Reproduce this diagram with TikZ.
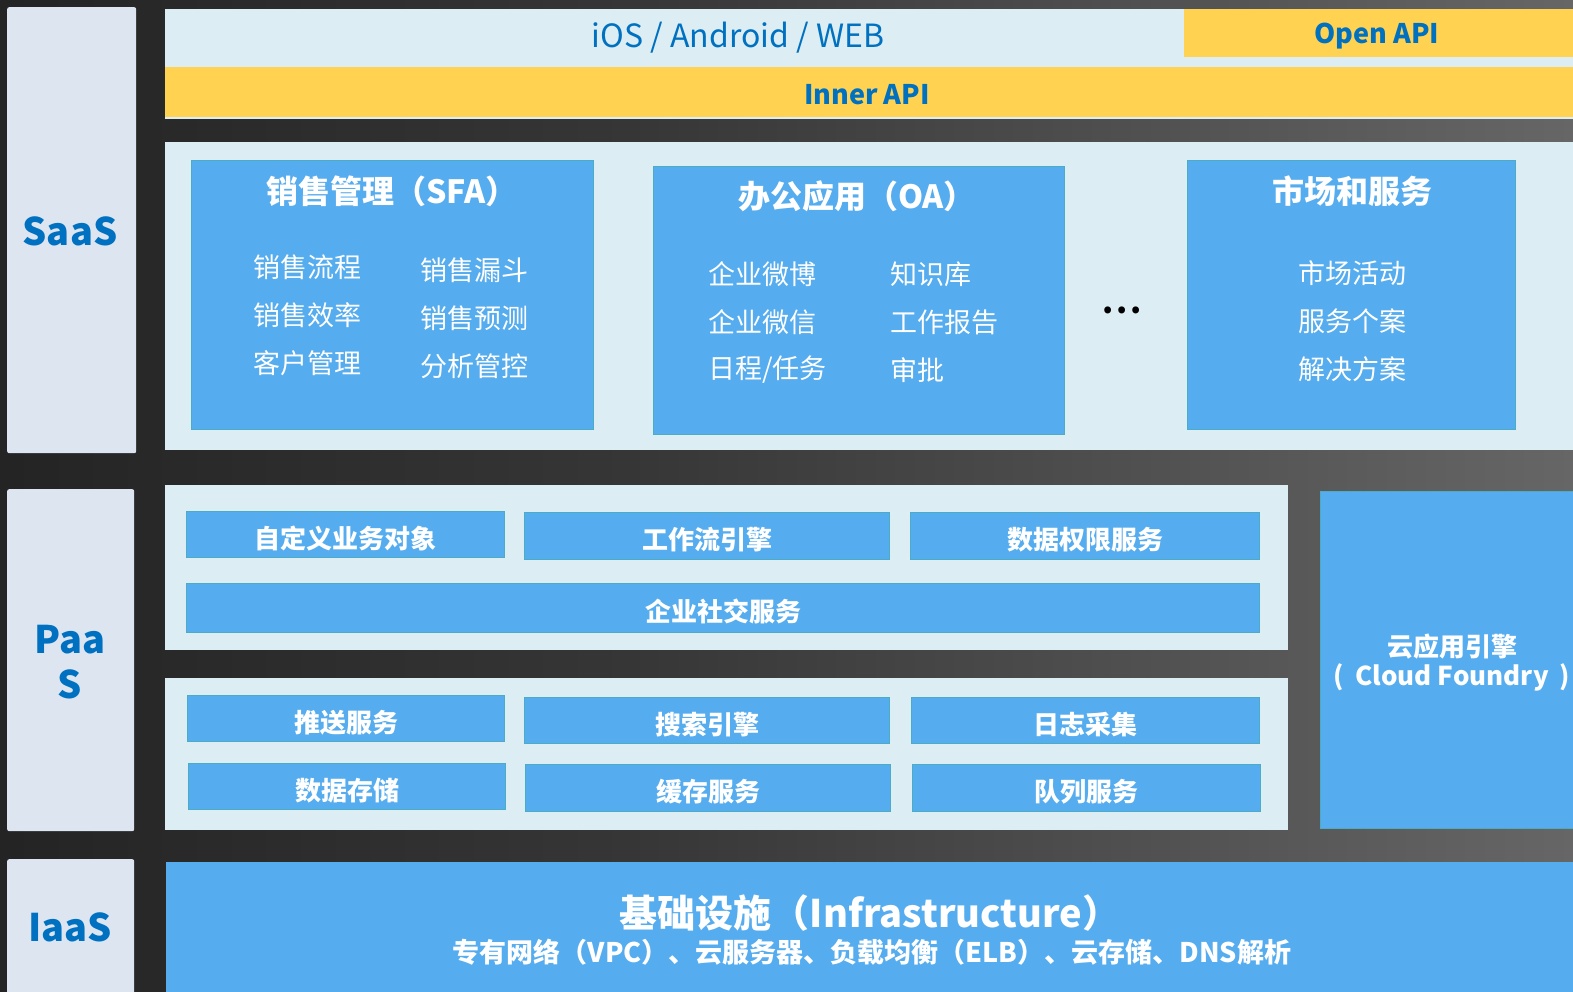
\documentclass[tikz,border=0pt]{standalone}
\usepackage{fontspec}
\setmainfont{Noto Sans CJK SC}
\definecolor{panel}{HTML}{DCEEF3}
\definecolor{side}{HTML}{DCE5F0}
\definecolor{ylw}{HTML}{FFD351}
\definecolor{bx}{HTML}{55ACEE}
\definecolor{bxline}{HTML}{4BACC6}
\definecolor{tblue}{HTML}{0070C0}
\definecolor{bga}{HTML}{080808}
\definecolor{bgb}{HTML}{181818}
\definecolor{bgc}{HTML}{363636}
\definecolor{bgd}{HTML}{5E5E5E}
\definecolor{bge}{HTML}{8E8E8E}
\pgfdeclarehorizontalshading{bgshade}{100bp}{color(0bp)=(bga); color(12bp)=(bgb); color(45bp)=(bgc); color(70bp)=(bgd); color(100bp)=(bge)}
\tikzset{
  panelbox/.style={fill=panel, draw=none, anchor=north west, inner sep=0pt, outer sep=0pt},
  sidebox/.style={fill=side, draw=none, rounded corners=2pt, anchor=north west, inner sep=0pt},
  ylwbox/.style={fill=ylw, draw=none, anchor=north west, inner sep=0pt},
  bluebox/.style={fill=bx, draw=bxline, line width=1.2pt, anchor=north west, inner sep=0pt},
  btitle/.style={text=white, font=\fontsize{32}{36}\selectfont\bfseries, inner sep=0pt},
  item/.style={text=white, font=\fontsize{27}{30}\selectfont, inner sep=0pt},
  svc/.style={bluebox, text=white, font=\fontsize{26}{28}\selectfont\bfseries, text height=27pt, text depth=0pt},
  sidelabel/.style={text=tblue, font=\fontsize{38}{45}\selectfont\bfseries, align=center, inner sep=0pt},
  apilabel/.style={text=tblue, font=\fontsize{27}{30}\selectfont\bfseries, inner sep=0pt}
}
\begin{document}
\begin{tikzpicture}[x=1pt,y=-1pt]
\useasboundingbox (0,0) rectangle (1573,992);
\shade[shading=bgshade] (0,0) rectangle (1573,992);

% side labels
\node[sidebox, minimum width=129pt, minimum height=446pt] (saasbox) at (7,7) {};
\node[sidebox, minimum width=127pt, minimum height=342pt] (paasbox) at (7,489) {};
\node[sidebox, minimum width=127pt, minimum height=140pt] (iaasbox) at (7,859) {};
\node[sidelabel] (saas) at (70,231) {SaaS};
\node[sidelabel] (paas) at (70,662) {Paa\\S};
\node[sidelabel] (iaas) at (70,927) {IaaS};

% top bars
\node[panelbox, minimum width=1408pt, minimum height=110pt] (toppanel) at (165,9) {};
\node[text=tblue, font=\fontsize{32}{36}\selectfont, inner sep=0pt] (clients) at (738,38) {iOS / Android / WEB};
\node[ylwbox, minimum width=389pt, minimum height=48pt] (openapi) at (1184,9) {};
\node[apilabel] (openlbl) at (1377,36) {Open API};
\node[ylwbox, minimum width=1408pt, minimum height=50pt] (innerapi) at (165,67) {};
\node[apilabel] (innerlbl) at (867,95) {Inner API};

% SaaS panel
\node[panelbox, minimum width=1408pt, minimum height=308pt] (saaspanel) at (165,142) {};
\node[bluebox, minimum width=402pt, minimum height=269pt] (sfa) at (191,160) {};
\node[btitle] (sfat) at (392,191) {销售管理（SFA）};
\node[item, anchor=west] (sfa1) at (253,267) {销售流程};
\node[item, anchor=west] (sfa2) at (253,315) {销售效率};
\node[item, anchor=west] (sfa3) at (253,363) {客户管理};
\node[item, anchor=west] (sfa4) at (420,270) {销售漏斗};
\node[item, anchor=west] (sfa5) at (420,318) {销售预测};
\node[item, anchor=west] (sfa6) at (420,366) {分析管控};

\node[bluebox, minimum width=411pt, minimum height=268pt] (oa) at (653,166) {};
\node[btitle] (oat) at (857,196) {办公应用（OA）};
\node[item, anchor=west] (oa1) at (708,274) {企业微博};
\node[item, anchor=west] (oa2) at (708,322) {企业微信};
\node[item, anchor=west] (oa3) at (708,370) {日程/任务};
\node[item, anchor=west] (oa4) at (890,274) {知识库};
\node[item, anchor=west] (oa5) at (890,322) {工作报告};
\node[item, anchor=west] (oa6) at (890,370) {审批};

\node[text=black, font=\fontsize{32}{36}\selectfont\bfseries, anchor=base, inner sep=0pt] (dots) at (1122,313) {.\kern3pt.\kern3pt.};

\node[bluebox, minimum width=328pt, minimum height=269pt] (mkt) at (1187,160) {};
\node[btitle] (mktt) at (1352,191) {市场和服务};
\node[item] (mkt1) at (1352,273) {市场活动};
\node[item] (mkt2) at (1352,321) {服务个案};
\node[item] (mkt3) at (1352,369) {解决方案};

% PaaS panels
\node[panelbox, minimum width=1123pt, minimum height=165pt] (paasup) at (165,485) {};
\node[svc, minimum width=318pt, minimum height=46pt] (p1) at (186,511) {自定义业务对象};
\node[svc, minimum width=365pt, minimum height=47pt] (p2) at (524,512) {工作流引擎};
\node[svc, minimum width=349pt, minimum height=47pt] (p3) at (910,512) {数据权限服务};
\node[svc, minimum width=1073pt, minimum height=49pt] (p4) at (186,583) {企业社交服务};

\node[panelbox, minimum width=1123pt, minimum height=152pt] (paaslow) at (165,678) {};
\node[svc, minimum width=317pt, minimum height=46pt] (q1) at (187,695) {推送服务};
\node[svc, minimum width=365pt, minimum height=46pt] (q2) at (524,697) {搜索引擎};
\node[svc, minimum width=348pt, minimum height=46pt] (q3) at (911,697) {日志采集};
\node[svc, minimum width=317pt, minimum height=46pt] (q4) at (188,763) {数据存储};
\node[svc, minimum width=365pt, minimum height=47pt] (q5) at (525,764) {缓存服务};
\node[svc, minimum width=348pt, minimum height=47pt] (q6) at (912,764) {队列服务};

\node[bluebox, minimum width=260pt, minimum height=337pt] (cf) at (1320,491) {};
\node[text=white, font=\fontsize{26}{29}\selectfont\bfseries, align=center, inner sep=0pt] (cft) at (1452,663) {云应用引擎\\(\hspace{11pt}Cloud Foundry\hspace{11pt})};

% IaaS
\node[bluebox, draw=none, minimum width=1408pt, minimum height=140pt] (iaaspanel) at (165,861) {};
\node[text=white, font=\fontsize{38}{42}\selectfont\bfseries, inner sep=0pt] (iaast) at (870,913) {基础设施（Infrastructure）};
\node[text=white, font=\fontsize{27}{30}\selectfont\bfseries, inner sep=0pt] (iaass) at (872,952) {专有网络（VPC）、云服务器、负载均衡（ELB）、云存储、DNS解析};
\end{tikzpicture}
\end{document}
